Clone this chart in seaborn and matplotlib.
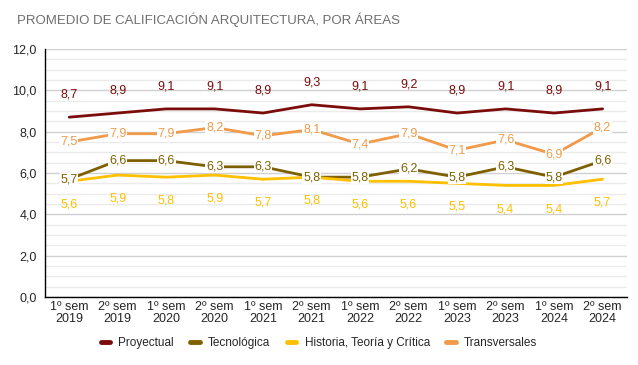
import pandas as pd
import matplotlib.pyplot as plt
import seaborn as sns
from matplotlib.ticker import MultipleLocator, FuncFormatter

# data
periodos = ["1º sem\n2019", "2º sem\n2019", "1º sem\n2020", "2º sem\n2020",
            "1º sem\n2021", "2º sem\n2021", "1º sem\n2022", "2º sem\n2022",
            "1º sem\n2023", "2º sem\n2023", "1º sem\n2024", "2º sem\n2024"]
proyectual = [8.7, 8.9, 9.1, 9.1, 8.9, 9.3, 9.1, 9.2, 8.9, 9.1, 8.9, 9.1]
tecnologica = [5.7, 6.6, 6.6, 6.3, 6.3, 5.8, 5.8, 6.2, 5.8, 6.3, 5.8, 6.6]
historia = [5.6, 5.9, 5.8, 5.9, 5.7, 5.8, 5.6, 5.6, 5.5, 5.4, 5.4, 5.7]
transversales = [7.5, 7.9, 7.9, 8.2, 7.8, 8.1, 7.4, 7.9, 7.1, 7.6, 6.9, 8.2]

areas = ["Proyectual", "Tecnológica", "Historia, Teoría y Crítica", "Transversales"]
series = [proyectual, tecnologica, historia, transversales]
colores = ["#7b0c0c", "#7f6000", "#ffc000", "#f09a4a"]

rows = []
for area, vals in zip(areas, series):
    for i, v in enumerate(vals):
        rows.append({"x": i, "valor": v, "area": area})
df = pd.DataFrame(rows)

sns.set_style("white")
plt.rcParams['font.family'] = ['Liberation Sans', 'DejaVu Sans']

fig = plt.figure(figsize=(6.38, 3.65), dpi=100)
ax = fig.add_axes([0.0705, 0.186, 0.912, 0.68])

sns.lineplot(data=df, x="x", y="valor", hue="area", hue_order=areas,
             palette=colores, linewidth=2, ax=ax, legend=True, zorder=3)

# data labels
offs = {"Proyectual": 16, "Tecnológica": 0, "Historia, Teoría y Crítica": -17,
        "Transversales": 0}
for area, vals, c in zip(areas, series, colores):
    for i, v in enumerate(vals):
        box = None
        if offs[area] == 0:
            box = dict(boxstyle="square,pad=0.05", fc="white", ec="none")
        ax.annotate(f"{v:.1f}".replace(".", ","), (i, v), xytext=(0, offs[area]),
                    textcoords="offset points", ha="center", va="center",
                    fontsize=9, color=c, bbox=box, zorder=5)

ax.set_xlim(-0.5, 11.5)
ax.set_ylim(0, 12)
ax.set_xticks(range(len(periodos)))
ax.set_xticklabels(periodos, fontsize=9, linespacing=1.0)
ax.yaxis.set_major_locator(MultipleLocator(2))
ax.yaxis.set_minor_locator(MultipleLocator(0.5))
ax.yaxis.set_major_formatter(FuncFormatter(lambda v, p: f"{v:.1f}".replace(".", ",")))
ax.tick_params(axis="y", labelsize=9, length=0, pad=6)
ax.tick_params(axis="x", length=0, pad=3)
ax.grid(axis="y", which="major", color="#d0d0d0", linewidth=1)
ax.grid(axis="y", which="minor", color="#ebebeb", linewidth=1)
ax.set_axisbelow(True)
ax.set_xlabel("")
ax.set_ylabel("")
for s in ["top", "right"]:
    ax.spines[s].set_visible(False)
for s in ["left", "bottom"]:
    ax.spines[s].set_color("black")
    ax.spines[s].set_linewidth(1)

h, l = ax.get_legend_handles_labels()
ax.get_legend().remove()
leg = fig.legend(h, l, loc="center", bbox_to_anchor=(0.5, 0.06), ncol=4, frameon=False,
                 fontsize=8.5, handlelength=0.8, handletextpad=0.7, columnspacing=1.4)
for line in leg.get_lines():
    line.set_linewidth(3.5)

fig.text(0.027, 0.945, "PROMEDIO DE CALIFICACIÓN ARQUITECTURA, POR ÁREAS",
         fontsize=9.5, color="#6e6e6e", va="center")

fig.savefig("out.png", dpi=100)
